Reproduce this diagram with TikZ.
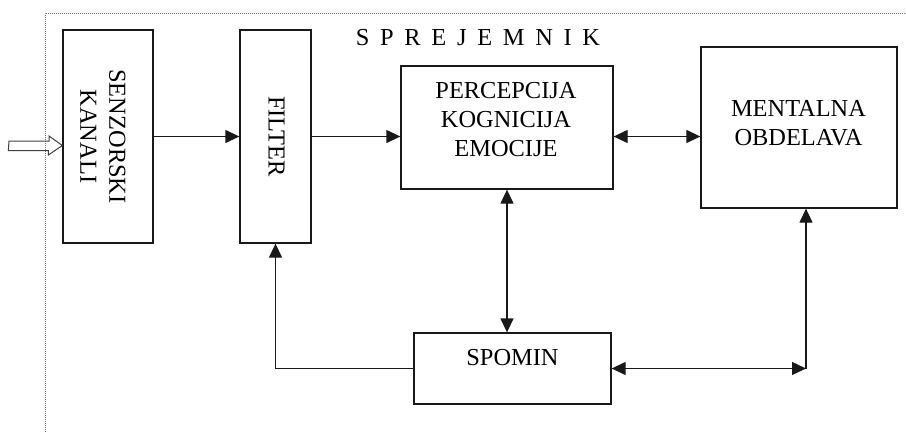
\documentclass[tikz,border=0pt]{standalone}
\usepackage{fontspec}
\setmainfont{Liberation Serif}
\usetikzlibrary{arrows.meta}
\newcommand\lsp{\hspace{10.7pt}}
\begin{document}
\begin{tikzpicture}[x=1pt,y=-1pt,
  box/.style={draw=black!90, line width=1.3pt, inner sep=0pt, fill=none},
  txt/.style={font=\fontsize{24.4}{29}\selectfont, align=center, inner sep=0pt, text=black},
  conn/.style={draw=black!90, line width=1.3pt, -{Triangle[length=14pt,width=13pt]}},
  dconn/.style={draw=black!90, line width=1.3pt, {Triangle[length=14pt,width=13pt]}-{Triangle[length=14pt,width=13pt]}},
  border/.style={draw=black!55, line width=1pt, dash pattern=on 1pt off 1pt}
]
\useasboundingbox (0,0) rectangle (906,432);
% dotted frame
\coordinate (fr) at (45,432);
\coordinate (fc) at (45,13);
\coordinate (fe) at (906,13);
\draw[border] (fr) -- (fc) -- (fe);
% boxes
\node[box, minimum width=90, minimum height=213] (senz) at (108,136.5) {};
\node[box, minimum width=71, minimum height=213] (filter) at (275.5,136.5) {};
\node[box, minimum width=212, minimum height=123] (perc) at (507,127.5) {};
\node[box, minimum width=196, minimum height=161] (mental) at (799,127.5) {};
\node[box, minimum width=197, minimum height=71] (spomin) at (512.5,368.5) {};
% texts
\node[txt, anchor=base] (title) at (478,45) {S\lsp P\lsp R\lsp E\lsp J\lsp E\lsp M\lsp N\lsp I\lsp K};
\node[txt, rotate=-90] (senzt) at (103,136.5) {SENZORSKI\\KANALI};
\node[txt, rotate=-90] (filtert) at (276.5,136.5) {FILTER};
\node[txt] (perct) at (506,120) {PERCEPCIJA\\KOGNICIJA\\EMOCIJE};
\node[txt] (mentalt) at (798.5,123.5) {MENTALNA\\OBDELAVA};
\node[txt] (spomint) at (512.5,358) {SPOMIN};
% input hollow arrow
\coordinate (in) at (9,145.5);
\draw[draw=black!75, line width=1pt, line join=miter]
  (in) ++(0,-4.5) -- ++(40,0) -- ++(0,-5) -- (senz.west |- in) -- ++(-14,9.5) -- ++(0,-4.5) -- ++(-40,0) -- cycle;
% connectors
\draw[conn] (senz.east) -- (filter.west);
\draw[conn] (filter.east) -- (filter.east -| perc.west);
\draw[dconn] (filter.east -| perc.east) -- (filter.east -| mental.west);
\draw[dconn] (perc.south) -- (perc.south |- spomin.north);
\draw[conn] (spomin.west) -| (filter.south);
\coordinate (cr) at (806,368.5);
\draw[dconn] (spomin.east) -- (cr);
\draw[conn] (cr) -- (cr |- mental.south);
\end{tikzpicture}
\end{document}
